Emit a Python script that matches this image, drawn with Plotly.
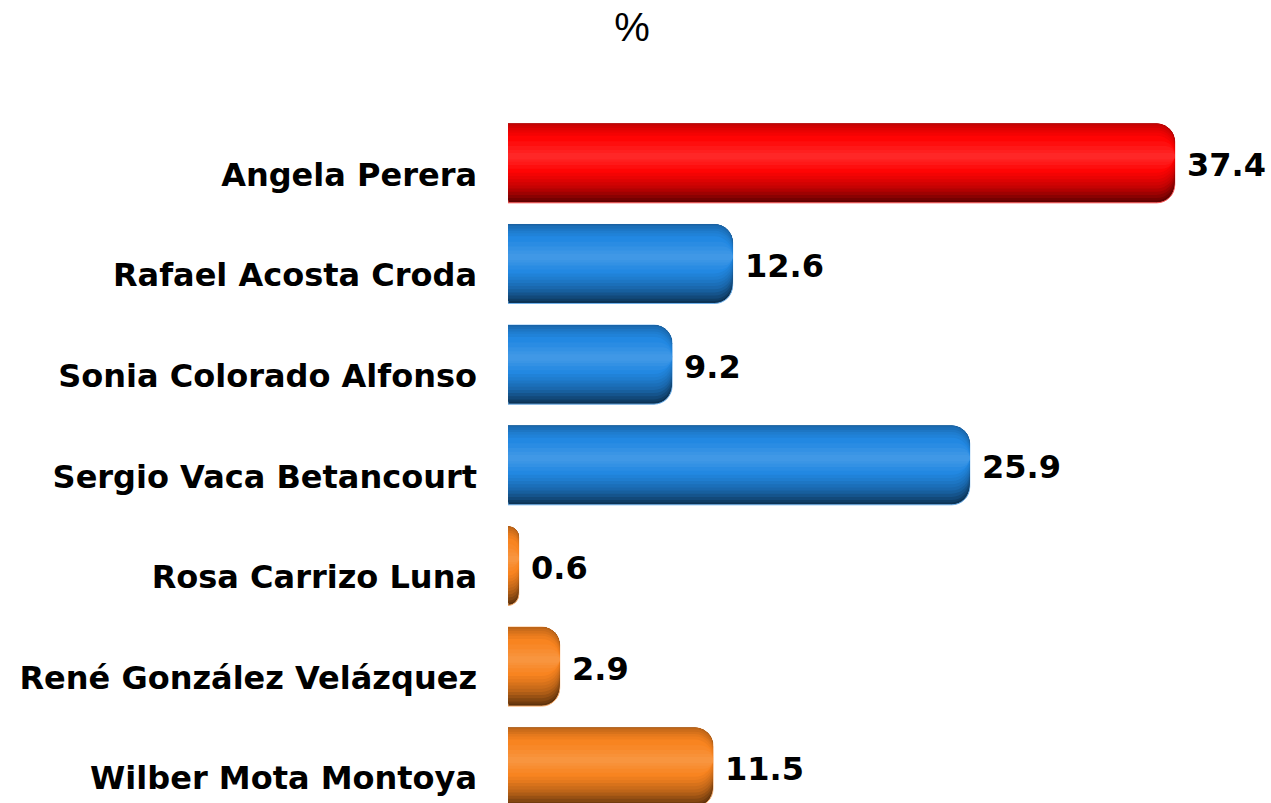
import plotly.graph_objects as go

# ---- data ----
candidates = ["Angela Perera", "Rafael Acosta Croda", "Sonia Colorado Alfonso",
              "Sergio Vaca Betancourt", "Rosa Carrizo Luna", "René González Velázquez",
              "Wilber Mota Montoya"]
values = [37.4, 12.6, 9.2, 25.9, 0.6, 2.9, 11.5]
groups = ["red", "blue", "blue", "blue", "orange", "orange", "orange"]
title_text = "%"

# ---- styles ----
base_colors = {"red": (255, 4, 4), "blue": (34, 136, 226), "orange": (248, 132, 32)}
# (top fraction, bottom fraction, shade) ; shade<1 darkens, >1 lightens toward white
layers = [
    (0.00, 1.00, 0.38),
    (0.00, 0.97, 0.46),
    (0.00, 0.94, 0.54),
    (0.00, 0.90, 0.62),
    (0.00, 0.86, 0.70),
    (0.00, 0.82, 0.77),
    (0.02, 0.78, 0.82),
    (0.05, 0.74, 0.87),
    (0.08, 0.70, 0.92),
    (0.11, 0.66, 0.96),
    (0.15, 0.62, 1.00),
    (0.22, 0.57, 1.04),
    (0.28, 0.52, 1.08),
    (0.33, 0.48, 1.11),
    (0.37, 0.45, 1.14),
]
W = 0.785
RADIUS = 18


def shade(rgb, s):
    if s <= 1:
        r, g, b = (int(c * s) for c in rgb)
    else:
        f = s - 1
        r, g, b = (int(c + (255 - c) * f) for c in rgb)
    return f"rgb({r},{g},{b})"


fig = go.Figure()
for i, (a, b, s) in enumerate(layers):
    colors = [shade(base_colors[g], s) for g in groups]
    line = dict(width=1, color=[shade(base_colors[g], 1.35) for g in groups]) if i == 0 else dict(width=0)
    fig.add_trace(go.Bar(
        y=candidates, x=values, orientation="h",
        width=W * (b - a), offset=-W / 2 + a * W,
        marker=dict(color=colors, cornerradius=RADIUS, line=line),
        hoverinfo="skip", showlegend=False,
    ))

for name, v in zip(candidates, values):
    fig.add_annotation(x=v, y=name, text=f"{v:.1f}", showarrow=False,
                       xanchor="left", yanchor="middle", xshift=10, yshift=-2,
                       font=dict(family="DejaVu Sans", size=32, color="#000", weight="bold"))

fig.update_layout(
    width=1271, height=803,
    margin=dict(l=508, r=0, t=113, b=0),
    barmode="overlay",
    plot_bgcolor="white", paper_bgcolor="white",
    title=dict(text=title_text, x=632 / 1271, xref="container", xanchor="center",
               y=1 - 27 / 803, yref="container", yanchor="middle",
               font=dict(family="Liberation Sans", size=40, color="#000")),
    xaxis=dict(range=[0, 42.8], visible=False, fixedrange=True),
    yaxis=dict(type="category", categoryorder="array", categoryarray=candidates,
               range=[6.355, -0.5], showgrid=False, zeroline=False, showline=False,
               ticks="", ticklabelstandoff=30, ticklabelshift=-11, fixedrange=True,
               tickfont=dict(family="DejaVu Sans", size=32, color="#000", weight="bold")),
)

fig.write_html("out.html", config={"displayModeBar": False},
               post_script="document.body.style.margin='0px';document.body.style.overflow='hidden';")
